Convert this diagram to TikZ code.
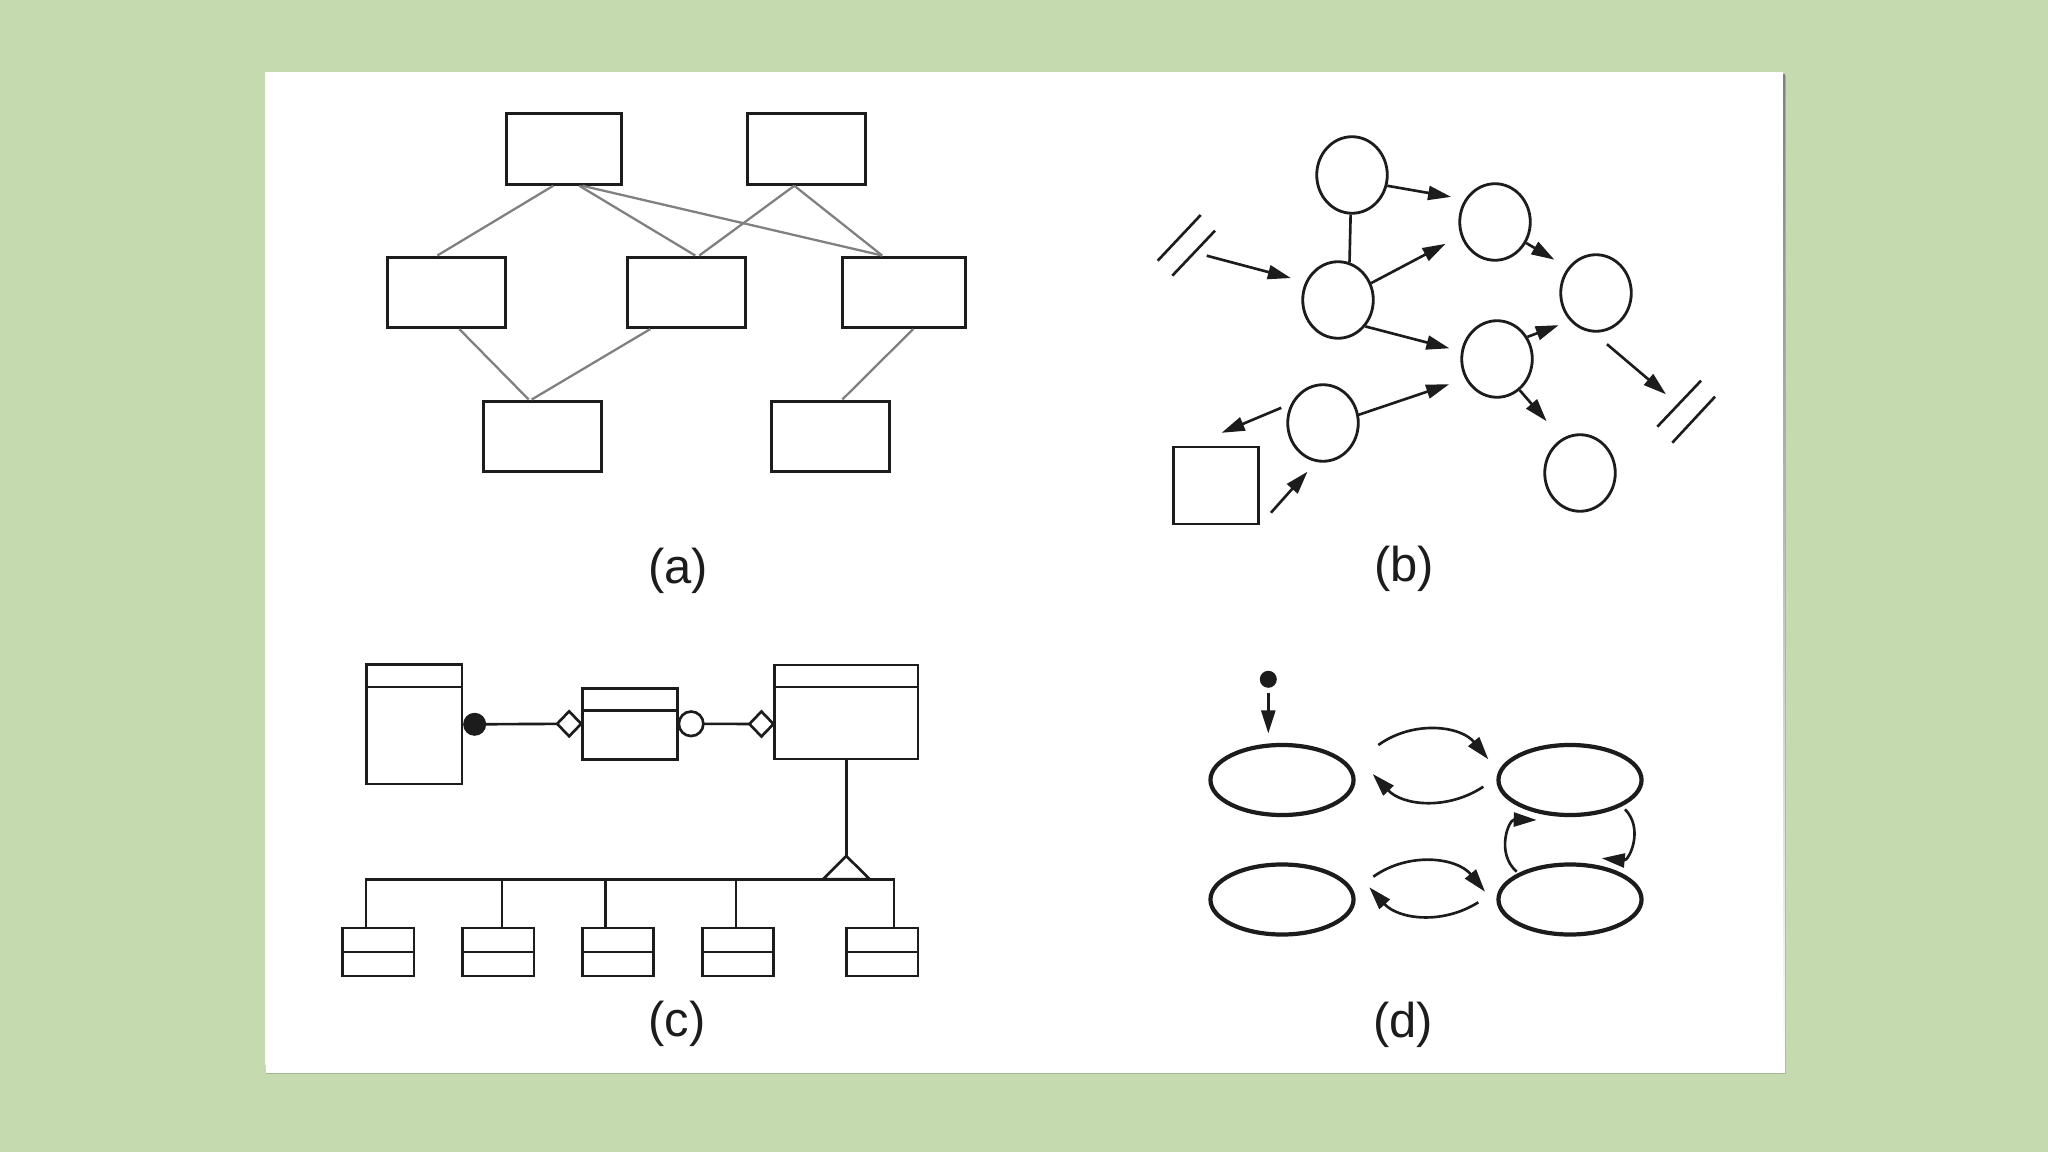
\documentclass[tikz,border=0pt]{standalone}
\usepackage{fontspec}
\setmainfont{Liberation Sans}
\usepackage{tikz}
\usetikzlibrary{positioning,arrows.meta,calc,shapes.geometric}
\usepackage{xcolor}
\definecolor{bggreen}{RGB}{197,218,175}
\definecolor{shade}{RGB}{140,152,128}
\definecolor{ink}{RGB}{28,28,28}
\definecolor{wire}{RGB}{128,128,128}

\begin{document}
\begin{tikzpicture}[x=0.01cm,y=-0.01cm,>={Triangle[length=0.23cm,width=0.14cm]},
  box/.style={draw=ink,line width=0.85pt,minimum width=1.18cm,minimum height=0.705cm,inner sep=0pt},
  link/.style={draw=wire,line width=0.65pt},
  bub/.style={draw=ink,ellipse,line width=0.8pt,minimum width=0.705cm,minimum height=0.765cm,inner sep=0pt},
  arr/.style={->,draw=ink,line width=0.75pt},
  pen/.style={draw=ink,line width=0.75pt},
  cls/.style={draw=ink,line width=0.75pt,inner sep=0pt},
  subbox/.style={cls,minimum width=0.715cm,minimum height=0.48cm},
  stnode/.style={draw=ink,ellipse,line width=1.2pt,minimum width=1.43cm,minimum height=0.70cm,inner sep=0pt},
  lbl/.style={font=\fontsize{13.9}{16}\selectfont,text=ink}]
\fill[bggreen] (0,0) rectangle (2048,1152);
\fill[shade!55!bggreen] (266,76) rectangle (1786,1074);
\fill[shade] (266,75) rectangle (1785,1072);
\fill[white] (265,72) rectangle (1783,1065);
\useasboundingbox (0,0) rectangle (2048,1152);

\node[box,minimum width=1.15cm] (t1) at (564.3,149) {};
\node[box] (t2) at (806.3,149) {};
\node[box] (m1) at (446.3,292.3) {};
\node[box] (m2) at (686.3,292.3) {};
\node[box,minimum width=1.23cm] (m3) at (904.2,292.3) {};
\node[box] (b1) at (542.7,436.3) {};
\node[box] (b2) at (830.3,436.3) {};
\draw[link] ($(t1.south)+(-11,0)$) -- ($(m1.north)+(-9,0)$);
\draw[link] ($(t1.south)+(15,0)$) -- ($(m2.north)+(9,0)$);
\draw[link] ($(t1.south)+(18,0)$) -- ($(m3.north)+(-22,0)$);
\draw[link] ($(t2.south)+(-12,0)$) -- ($(m2.north)+(13,0)$);
\draw[link] ($(t2.south)+(-12,0)$) -- ($(m3.north)+(-22,0)$);
\draw[link] ($(m1.south)+(13,0)$) -- ($(b1.north)+(-14,0)$);
\draw[link] ($(m2.south)+(-36,0)$) -- ($(b1.north)+(-11,0)$);
\draw[link] ($(m3.south)+(9,0)$) -- ($(b2.north)+(12,0)$);
\node[lbl] (la) at (678,571) {(a)};

\node[bub] (n1) at (1352,175) {};
\node[bub] (n2) at (1338,300) {};
\node[bub] (n3) at (1495,222) {};
\node[bub] (n4) at (1596,293) {};
\node[bub] (n5) at (1497,359) {};
\node[bub] (n6) at (1323,423) {};
\node[bub] (n7) at (1580,473) {};
\node[draw=ink,line width=0.8pt,minimum width=0.85cm,minimum height=0.77cm,inner sep=0pt] (sq) at (1215.7,485.5) {};
\coordinate (inL) at (1206.7,255.7);
\coordinate (outR) at (1666,394.3);
\draw[pen] (1157.7,260.7) -- (1200.7,215) (1172.3,275.7) -- (1215,230.7);
\draw[pen] (1657.3,426.7) -- (1701,380.7) (1672.3,442.7) -- (1715,396.7);
\draw[arr,shorten >=0.15cm] (inL) -- (n2.151);
\draw[arr,shorten >=0.14cm] (n1.-17) -- (n3.143);
\draw[pen] (n1.-92) -- (n2.73);
\draw[arr,shorten >=0.17cm] (n2.27) -- (n3.202);
\draw[arr,shorten >=0.12cm] (n2.-44) -- (n5.168);
\draw[arr,shorten >=0.156cm] (n3.-34) -- (n4.138);
\draw[arr,shorten >=0.12cm] (n5.36) -- (n4.227);
\draw[arr,shorten >=0.23cm] (n5.-54) -- (n7.118);
\draw[arr,shorten >=0.17cm] (n6.13) -- (n5.212);
\draw[arr,shorten <=0.105cm,shorten >=0.33cm] (n6.149) -- ($(sq.north)+(-24.5,0)$);
\draw[arr,shorten <=0.17cm,shorten >=0.13cm] (sq.south east) -- (n6.260);
\draw[arr,shorten <=0.18cm] (n4.-94) -- (outR);
\node[lbl] (lb) at (1404,569) {(b)};

\node[cls,minimum width=0.95cm,minimum height=1.19cm] (clsL) at (414.3,724.3) {};
\node[cls,minimum width=0.95cm,minimum height=0.71cm] (clsM) at (630,723.8) {};
\node[cls,minimum width=1.43cm,minimum height=0.94cm] (clsR) at (846.3,712) {};
\draw[pen] ($(clsL.north west)+(0,23.5)$) -- ($(clsL.north east)+(0,23.5)$);
\draw[pen] ($(clsM.north west)+(0,23.6)$) -- ($(clsM.north east)+(0,23.6)$);
\draw[pen] ($(clsR.north west)+(0,23.5)$) -- ($(clsR.north east)+(0,23.5)$);
\node[circle,fill=ink,inner sep=0pt,outer sep=0pt,minimum size=0.23cm,right=0pt of clsL] (agg) {};
\node[diamond,pen,fill=white,inner sep=0pt,outer sep=0pt,minimum width=0.24cm,minimum height=0.25cm,left=0pt of clsM] (dia1) {};
\node[circle,pen,fill=white,inner sep=0pt,outer sep=0pt,minimum size=0.245cm,right=0pt of clsM] (ring) {};
\node[diamond,pen,fill=white,inner sep=0pt,outer sep=0pt,minimum width=0.24cm,minimum height=0.25cm,anchor=east] (dia2) at ($(clsR.west)+(0,12)$) {};
\draw[pen] (agg) -- (dia1);
\draw[pen] (ring) -- (dia2);
\coordinate (gen) at (846.3,856);
\coordinate (bus) at (846.3,879.3);
\draw[pen] (clsR.south) -- (gen);
\foreach \n/\x in {1/378.3,2/498.3,3/618,4/738,5/882.3}{
  \node[subbox] (sub\n) at (\x,952) {};
  \draw[pen] (sub\n.west) -- (sub\n.east);
}
\foreach \n/\d in {1/-12.3,2/3.7,3/-12.3,4/-2,5/11.7}
  \draw[pen] ($(sub\n.north)+(\d,0)$) |- (bus);
\draw[pen,fill=white] (gen) -- ++(-23.5,23.3) -- ++(47,0) -- cycle;
\node[lbl] (lc) at (677,1024) {(c)};

\node[stnode] (s1) at (1282,780) {};
\node[stnode] (s2) at (1570,780) {};
\node[stnode] (s3) at (1282,899.5) {};
\node[stnode] (s4) at (1570,899.5) {};
\node[circle,fill=ink,inner sep=0pt,minimum size=0.17cm] (init) at (1268.3,679.3) {};
\draw[arr,shorten <=0.04cm,shorten >=0.095cm] (init) -- (init |- s1.north);
\draw[arr] ($(s1)+(96.3,-35)$) to[bend left=43] ($(s2)+(-81.7,-20.7)$);
\draw[arr] ($(s2)+(-86.7,6.7)$) to[bend left=40] ($(s1)+(90.7,-6)$);
\draw[arr] ($(s3)+(91.3,-22.8)$) to[bend left=43] ($(s4)+(-85,-7.8)$);
\draw[arr] ($(s4)+(-91.7,2.8)$) to[bend left=40] ($(s3)+(87.3,-12.2)$);
\draw[arr] ($(s2)+(55,29.3)$) to[bend left=70,looseness=1.3] ($(s4)+(31.7,-41.2)$);
\draw[arr] ($(s4)+(-53.3,-27.8)$) to[bend left=70,looseness=1.3] ($(s2)+(-33.3,40)$);
\node[lbl] (ld) at (1403,1025) {(d)};
\end{tikzpicture}
\end{document}
